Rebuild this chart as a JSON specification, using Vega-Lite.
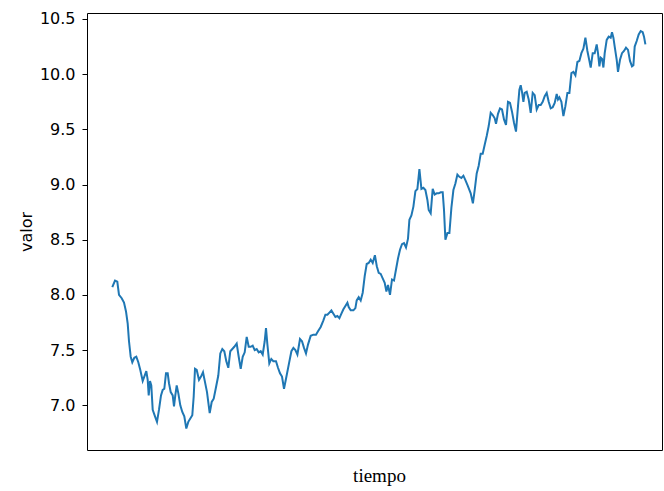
{
  "$schema": "https://vega.github.io/schema/vega-lite/v6.json",
  "width": 575,
  "height": 437,
  "autosize": "none",
  "padding": {"left": 87, "top": 13, "right": 2, "bottom": 41},
  "background": "white",
  "config": {"view": {"stroke": "#000000", "strokeWidth": 1}},
  "data": {"values": [
    {"t":0.3,"v":8.07},{"t":3,"v":8.13},{"t":5.3,"v":8.12},{"t":7,"v":8.00},{"t":9.7,"v":7.97},{"t":12,"v":7.93},{"t":14,"v":7.85},{"t":15.7,"v":7.74},{"t":17,"v":7.58},{"t":18.7,"v":7.44},
    {"t":20.3,"v":7.39},{"t":22.3,"v":7.43},{"t":24.3,"v":7.44},{"t":26.3,"v":7.39},{"t":28.3,"v":7.32},{"t":30.7,"v":7.22},{"t":32.3,"v":7.26},{"t":34.3,"v":7.31},{"t":35.7,"v":7.23},{"t":36.7,"v":7.09},
    {"t":38,"v":7.22},{"t":39.3,"v":7.18},{"t":40.7,"v":6.96},{"t":43,"v":6.90},{"t":45,"v":6.85},{"t":47,"v":6.96},{"t":49,"v":7.09},{"t":50.7,"v":7.14},{"t":52.3,"v":7.15},{"t":54,"v":7.29},
    {"t":55.7,"v":7.29},{"t":57,"v":7.20},{"t":58.7,"v":7.12},{"t":60.7,"v":7.09},{"t":62,"v":6.99},{"t":63.3,"v":7.09},{"t":64.7,"v":7.18},{"t":66.3,"v":7.11},{"t":68.3,"v":7.00},{"t":70.3,"v":6.94},
    {"t":72.3,"v":6.90},{"t":74.3,"v":6.79},{"t":76.3,"v":6.85},{"t":78.3,"v":6.88},{"t":80.3,"v":6.91},{"t":81.7,"v":7.08},{"t":83,"v":7.33},{"t":84.7,"v":7.32},{"t":87,"v":7.23},{"t":89,"v":7.26},
    {"t":91,"v":7.30},{"t":93,"v":7.21},{"t":95,"v":7.12},{"t":97.7,"v":6.93},{"t":99.7,"v":7.03},{"t":101.7,"v":7.06},{"t":103.7,"v":7.15},{"t":106.3,"v":7.27},{"t":108.3,"v":7.47},{"t":110.3,"v":7.51},
    {"t":112.3,"v":7.49},{"t":114.3,"v":7.40},{"t":116.3,"v":7.34},{"t":118.3,"v":7.49},{"t":120.3,"v":7.51},{"t":122.3,"v":7.53},{"t":124.7,"v":7.56},{"t":126.7,"v":7.44},{"t":128.7,"v":7.33},{"t":130.7,"v":7.44},
    {"t":132.7,"v":7.48},{"t":134.7,"v":7.62},{"t":136.7,"v":7.53},{"t":138.7,"v":7.53},{"t":140.7,"v":7.54},{"t":142.7,"v":7.50},{"t":144.7,"v":7.51},{"t":146.7,"v":7.48},{"t":148.7,"v":7.49},{"t":150.7,"v":7.46},
    {"t":152.7,"v":7.58},{"t":154,"v":7.70},{"t":155.3,"v":7.56},{"t":157.3,"v":7.38},{"t":159.3,"v":7.42},{"t":161.3,"v":7.40},{"t":164,"v":7.40},{"t":166,"v":7.34},{"t":168,"v":7.29},{"t":170,"v":7.26},
    {"t":172,"v":7.15},{"t":174,"v":7.24},{"t":177,"v":7.38},{"t":179.4,"v":7.49},{"t":181.4,"v":7.52},{"t":183.4,"v":7.50},{"t":185.4,"v":7.46},{"t":188,"v":7.60},{"t":190,"v":7.58},{"t":192,"v":7.52},
    {"t":194,"v":7.47},{"t":196,"v":7.55},{"t":198.7,"v":7.63},{"t":201.4,"v":7.64},{"t":204,"v":7.64},{"t":206,"v":7.67},{"t":208.7,"v":7.71},{"t":211.4,"v":7.77},{"t":213.4,"v":7.82},{"t":215.4,"v":7.82},
    {"t":217.4,"v":7.84},{"t":219.4,"v":7.86},{"t":221.4,"v":7.83},{"t":223.4,"v":7.80},{"t":225.4,"v":7.81},{"t":227.4,"v":7.79},{"t":229.4,"v":7.83},{"t":231.4,"v":7.87},{"t":233.4,"v":7.90},{"t":235.4,"v":7.93},
    {"t":236.7,"v":7.89},{"t":238.7,"v":7.86},{"t":241.4,"v":7.86},{"t":243.4,"v":7.88},{"t":244.7,"v":7.95},{"t":246.7,"v":7.98},{"t":248.7,"v":7.95},{"t":250.7,"v":8.02},{"t":252.7,"v":8.17},{"t":254.7,"v":8.28},
    {"t":256.7,"v":8.29},{"t":258.7,"v":8.32},{"t":260.7,"v":8.29},{"t":262.9,"v":8.36},{"t":264.8,"v":8.26},{"t":266.7,"v":8.20},{"t":268.7,"v":8.19},{"t":270.7,"v":8.15},{"t":272.7,"v":8.11},{"t":274.4,"v":8.03},
    {"t":276,"v":8.09},{"t":278,"v":8.00},{"t":280,"v":8.14},{"t":282,"v":8.13},{"t":284,"v":8.23},{"t":286,"v":8.33},{"t":288,"v":8.41},{"t":290,"v":8.46},{"t":292,"v":8.47},{"t":294,"v":8.43},
    {"t":296,"v":8.51},{"t":297.4,"v":8.68},{"t":299.4,"v":8.72},{"t":301.4,"v":8.80},{"t":303.4,"v":8.94},{"t":305.4,"v":8.96},{"t":307.4,"v":9.14},{"t":309.4,"v":8.96},{"t":311.4,"v":8.97},{"t":313.4,"v":8.95},
    {"t":315.4,"v":8.86},{"t":316.7,"v":8.77},{"t":318.7,"v":8.74},{"t":320.7,"v":8.96},{"t":322.7,"v":8.91},{"t":324.7,"v":8.92},{"t":326.7,"v":8.92},{"t":328.7,"v":8.93},{"t":330.7,"v":8.93},{"t":332,"v":8.77},
    {"t":333.4,"v":8.50},{"t":335.4,"v":8.56},{"t":337.4,"v":8.56},{"t":339.4,"v":8.79},{"t":341.4,"v":8.95},{"t":343.4,"v":9.01},{"t":345.4,"v":9.09},{"t":347.4,"v":9.07},{"t":349.4,"v":9.06},{"t":351.4,"v":9.08},
    {"t":353.4,"v":9.04},{"t":355.7,"v":8.99},{"t":358.7,"v":8.92},{"t":360.9,"v":8.83},{"t":362.7,"v":8.95},{"t":364.7,"v":9.10},{"t":366.7,"v":9.17},{"t":368.7,"v":9.28},{"t":370.7,"v":9.28},{"t":372.7,"v":9.36},
    {"t":374.7,"v":9.44},{"t":376.7,"v":9.53},{"t":378.7,"v":9.65},{"t":380.7,"v":9.63},{"t":382.7,"v":9.60},{"t":384,"v":9.55},{"t":386,"v":9.64},{"t":388,"v":9.69},{"t":390,"v":9.68},{"t":392,"v":9.59},
    {"t":394,"v":9.54},{"t":396,"v":9.75},{"t":398,"v":9.74},{"t":400,"v":9.66},{"t":402,"v":9.56},{"t":404,"v":9.48},{"t":406,"v":9.71},{"t":407.4,"v":9.86},{"t":408.7,"v":9.90},{"t":410,"v":9.84},
    {"t":411.4,"v":9.75},{"t":412.7,"v":9.83},{"t":414.7,"v":9.84},{"t":416.7,"v":9.77},{"t":418.7,"v":9.65},{"t":420.7,"v":9.83},{"t":422.7,"v":9.81},{"t":424.7,"v":9.68},{"t":426.7,"v":9.72},{"t":428.7,"v":9.72},
    {"t":430.7,"v":9.75},{"t":432.7,"v":9.80},{"t":434.7,"v":9.83},{"t":436.7,"v":9.75},{"t":438.7,"v":9.69},{"t":440.7,"v":9.70},{"t":442.7,"v":9.74},{"t":444.7,"v":9.82},{"t":446,"v":9.77},{"t":447.4,"v":9.79},
    {"t":449.4,"v":9.75},{"t":451.4,"v":9.62},{"t":453.4,"v":9.71},{"t":455.4,"v":9.83},{"t":457.4,"v":9.83},{"t":459.4,"v":10.01},{"t":461.4,"v":10.02},{"t":463.4,"v":9.99},{"t":465.4,"v":10.11},{"t":467.4,"v":10.12},
    {"t":469.4,"v":10.19},{"t":471.4,"v":10.23},{"t":473.4,"v":10.33},{"t":475.4,"v":10.21},{"t":477.4,"v":10.12},{"t":478.7,"v":10.06},{"t":480.7,"v":10.19},{"t":482.7,"v":10.19},{"t":484.7,"v":10.27},{"t":486,"v":10.19},
    {"t":487.4,"v":10.07},{"t":488.7,"v":10.15},{"t":490,"v":10.14},{"t":491.4,"v":10.06},{"t":492.7,"v":10.19},{"t":494.7,"v":10.31},{"t":496.7,"v":10.34},{"t":498.7,"v":10.33},{"t":500,"v":10.38},{"t":501.4,"v":10.33},
    {"t":502.7,"v":10.25},{"t":504.7,"v":10.13},{"t":506,"v":10.02},{"t":508,"v":10.13},{"t":510,"v":10.19},{"t":512,"v":10.21},{"t":514,"v":10.24},{"t":516,"v":10.22},{"t":518,"v":10.12},{"t":520,"v":10.07},
    {"t":521.4,"v":10.08},{"t":522.7,"v":10.25},{"t":524.7,"v":10.30},{"t":526.7,"v":10.36},{"t":528.7,"v":10.39},{"t":530.7,"v":10.38},{"t":532,"v":10.34},{"t":533.4,"v":10.27}
  ]},
  "mark": {"type": "line", "stroke": "#1f77b4", "strokeWidth": 2, "interpolate": "linear"},
  "encoding": {
    "x": {
      "field": "t", "type": "quantitative",
      "scale": {"domain": [-25, 550], "nice": false, "zero": false},
      "axis": {"title": "tiempo", "labels": false, "ticks": false, "domain": false, "grid": false,
        "titleFont": "Liberation Serif", "titleFontSize": 19, "titleFontWeight": "normal", "titleColor": "#000000", "titlePadding": 16, "titleX": 292}
    },
    "y": {
      "field": "v", "type": "quantitative",
      "scale": {"domain": [6.595, 10.554], "nice": false, "zero": false},
      "axis": {"title": "valor", "values": [7, 7.5, 8, 8.5, 9, 9.5, 10, 10.5], "format": ".1f", "grid": false, "domain": false,
        "tickColor": "#000000", "tickSize": 5, "tickWidth": 1, "labelPadding": 7,
        "labelFont": "DejaVu Sans", "labelFontSize": 16, "labelColor": "#000000",
        "titleFont": "DejaVu Sans", "titleFontSize": 16, "titleFontWeight": "normal", "titleColor": "#000000", "titlePadding": 5}
    }
  }
}
